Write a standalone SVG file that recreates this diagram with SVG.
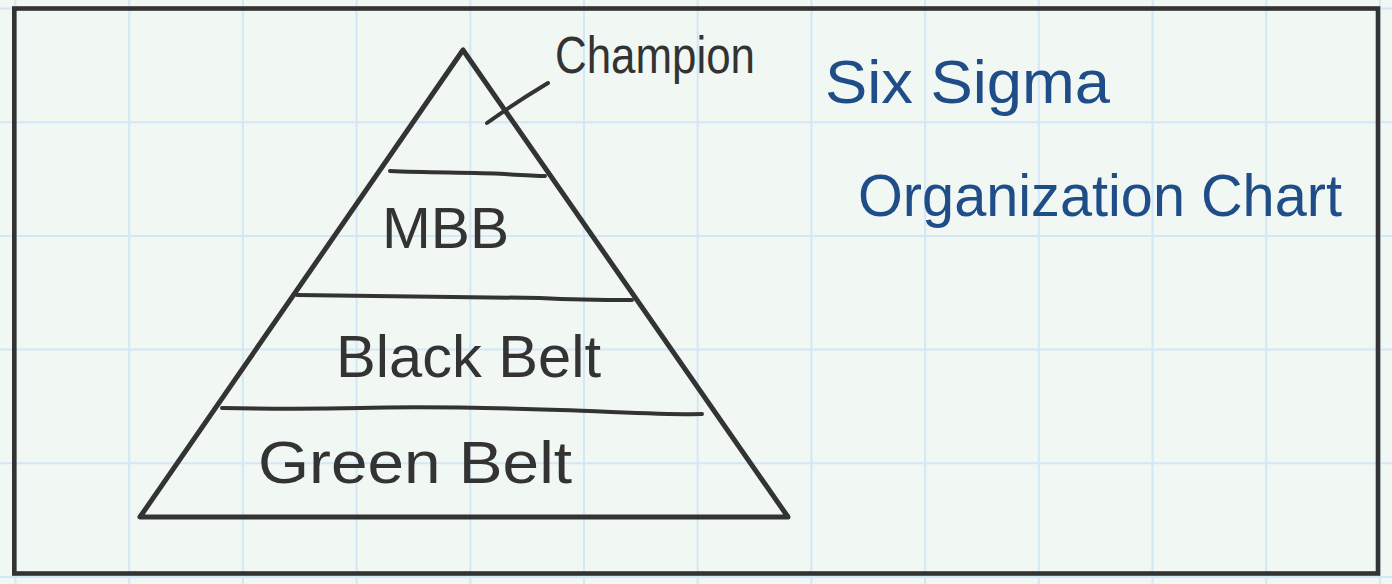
<svg xmlns="http://www.w3.org/2000/svg" width="1392" height="584" viewBox="0 0 1392 584">
<style>
.grid line{stroke:#d2e7f7;stroke-width:2}
.ink{fill:none;stroke:#333333;stroke-width:5;stroke-linecap:round;stroke-linejoin:round}
.rule{fill:none;stroke:#333333;stroke-width:4;stroke-linecap:round}
.lbl{font-family:"Liberation Sans",Arial,sans-serif;fill:#333333}
.title{font-family:"Liberation Sans",Arial,sans-serif;fill:#1f4d88}
</style>
<rect x="0" y="0" width="1392" height="584" fill="#f1f7f3"/>
<g class="grid">
<line x1="15.5" y1="0" x2="15.5" y2="584"/>
<line x1="129.2" y1="0" x2="129.2" y2="584"/>
<line x1="242.9" y1="0" x2="242.9" y2="584"/>
<line x1="356.6" y1="0" x2="356.6" y2="584"/>
<line x1="470.3" y1="0" x2="470.3" y2="584"/>
<line x1="584" y1="0" x2="584" y2="584"/>
<line x1="697.7" y1="0" x2="697.7" y2="584"/>
<line x1="811.4" y1="0" x2="811.4" y2="584"/>
<line x1="925.1" y1="0" x2="925.1" y2="584"/>
<line x1="1038.8" y1="0" x2="1038.8" y2="584"/>
<line x1="1152.5" y1="0" x2="1152.5" y2="584"/>
<line x1="1266.2" y1="0" x2="1266.2" y2="584"/>
<line x1="1379.9" y1="0" x2="1379.9" y2="584"/>
<line x1="0" y1="8.5" x2="1392" y2="8.5"/>
<line x1="0" y1="122.2" x2="1392" y2="122.2"/>
<line x1="0" y1="235.9" x2="1392" y2="235.9"/>
<line x1="0" y1="349.6" x2="1392" y2="349.6"/>
<line x1="0" y1="463.3" x2="1392" y2="463.3"/>
<line x1="0" y1="577" x2="1392" y2="577"/>
</g>
<rect id="frame" x="14.3" y="8.5" width="1363.7" height="565" fill="none" stroke="#333333" stroke-width="4.6"/>
<g id="pyramid">
<path class="ink" d="M463,50 L140,517 L788,517 Z"/>
</g>
<g id="tier-mbb">
<path class="rule" d="M390,171 C430,173 470,172 505,174 C520,175 535,176 545,176"/>
<text class="lbl" x="382" y="248" font-size="58" textLength="127" lengthAdjust="spacingAndGlyphs">MBB</text>
</g>
<g id="tier-black-belt">
<path class="rule" d="M297,295 C380,296 460,297 540,298 C580,300 610,300 632,300"/>
<text class="lbl" x="336" y="377" font-size="60" textLength="265" lengthAdjust="spacingAndGlyphs">Black Belt</text>
</g>
<g id="tier-green-belt">
<path class="rule" d="M222,408 C270,409 320,409 360,408 C420,406 500,408 560,410 C620,412 670,415 702,414"/>
<text class="lbl" x="258" y="483" font-size="60" textLength="314" lengthAdjust="spacingAndGlyphs">Green Belt</text>
</g>
<g id="champion">
<text class="lbl" x="555" y="73" font-size="52" textLength="200" lengthAdjust="spacingAndGlyphs">Champion</text>
</g>
<g id="title">
<text class="title" x="825" y="103" font-size="62" textLength="285" lengthAdjust="spacingAndGlyphs">Six Sigma</text>
<text class="title" x="858" y="216" font-size="60" textLength="484" lengthAdjust="spacingAndGlyphs">Organization Chart</text>
</g>
<g id="connectors">
<path class="rule" d="M487,123 C505,110 528,95 548,83"/>
</g>
</svg>
